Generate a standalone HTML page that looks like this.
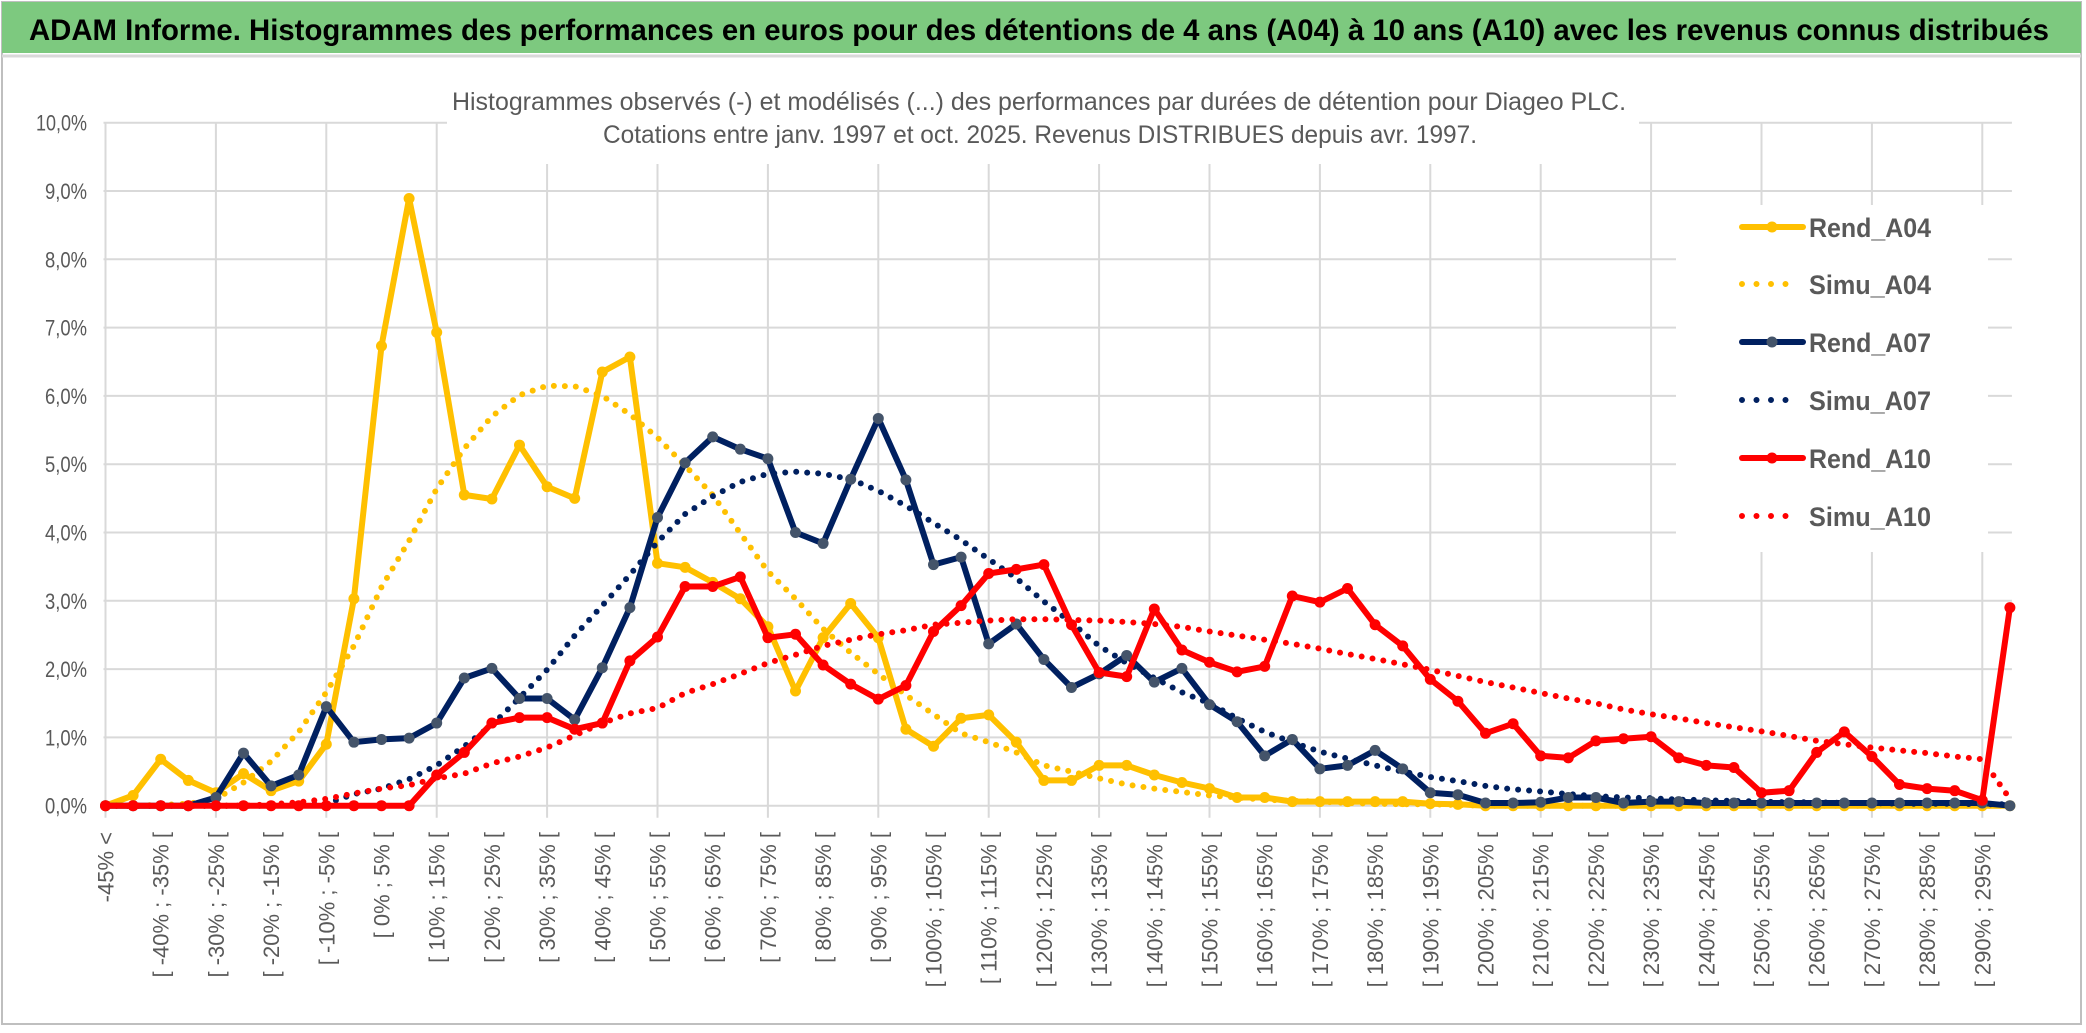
<!DOCTYPE html>
<html><head><meta charset="utf-8"><title>ADAM Informe - Diageo PLC</title>
<style>
html,body{margin:0;padding:0;background:#fff;}
svg{display:block;font-family:"Liberation Sans",sans-serif;}
</style></head>
<body>
<svg id="chart" width="2086" height="1033" viewBox="0 0 2086 1033" xmlns="http://www.w3.org/2000/svg">
  <rect x="0" y="0" width="2086" height="1033" fill="#fff"/>
  <rect x="2" y="2" width="2079" height="1022" fill="none" stroke="#bfbfbf" stroke-width="2"/>
  <rect x="2" y="2" width="2079" height="51" fill="#7dc97f"/>
  <line x1="2" y1="56" x2="2081" y2="56" stroke="#d9d9d9" stroke-width="3"/>
  <text x="29" y="40" font-size="30" font-weight="bold" fill="#000" textLength="2020" lengthAdjust="spacingAndGlyphs">ADAM Informe. Histogrammes des performances en euros pour des détentions de 4 ans (A04) à 10 ans (A10) avec les revenus connus distribués</text>
  <g id="grid"></g>
  <rect x="447" y="78" width="1192" height="86" fill="#fff"/>
  <rect x="1676" y="205" width="312" height="347" fill="#fff"/>
  <text x="1039" y="110" font-size="25" fill="#595959" text-anchor="middle" textLength="1174" lengthAdjust="spacingAndGlyphs">Histogrammes observés (-) et modélisés (...) des performances par durées de détention pour Diageo PLC.</text>
  <text x="1040" y="143" font-size="25" fill="#595959" text-anchor="middle" textLength="874" lengthAdjust="spacingAndGlyphs">Cotations entre janv. 1997 et oct. 2025. Revenus DISTRIBUES depuis avr. 1997.</text>
  <g id="yaxis"></g>
  <g id="xaxis"></g>
  <g id="series"></g>
  <g id="legend"></g>
</svg>
<script>
const rendA04 = [0,0.15,0.68,0.37,0.19,0.47,0.22,0.36,0.9,3.03,6.73,8.89,6.93,4.55,4.49,5.28,4.67,4.5,6.35,6.57,3.55,
 3.49,3.27,3.03,2.62,1.68,2.46,2.96,2.46,1.12,0.87,1.28,1.33,0.93,0.37,0.37,0.59,0.59,0.45,0.34,
 0.25,0.12,0.12,0.06,0.06,0.06,0.06,0.06,0.03,0.02,
 0,0,0,0,0,0,0,0,0,0,0,0,0,0,0,0,0,0,0,0];
const simuA04 = [0,0,0.01,0.03,0.1,0.34,0.65,1.08,1.66,2.34,3.2,3.88,4.64,5.23,5.7,6.01,6.15,6.14,6.0,5.73,5.39,
 4.98,4.55,3.99,3.43,3.03,2.59,2.24,1.93,1.62,1.34,1.06,0.93,0.78,0.59,0.5,0.4,0.31,0.25,0.2,
 0.15,0.12,0.09,0.07,0.06,0.04,0.03,0.02,0.02,0.01,
 0,0,0,0,0,0,0,0,0,0,0,0,0,0,0,0,0,0,0,0];
const rendA07 = [0,0,0,0,0.12,0.77,0.29,0.45,1.45,0.93,0.97,0.99,1.21,1.87,2.01,1.57,1.57,1.26,2.02,2.9,4.22,
 5.02,5.40,5.22,5.08,4.0,3.84,4.78,5.67,4.77,3.53,3.64,2.37,2.66,2.14,1.73,1.93,2.2,1.81,2.01,
 1.48,1.23,0.73,0.97,0.54,0.59,0.81,0.54,0.19,0.16,0.04,0.04,0.05,0.12,0.12,0.04,0.06,0.06,0.04,0.04,
 0.04,0.04,0.04,0.04,0.04,0.04,0.04,0.04,0.04,0];
const simuA07 = [0,0,0,0,0,0,0,0.01,0.03,0.17,0.25,0.39,0.59,0.87,1.18,1.58,1.99,2.49,2.93,3.38,3.86,
 4.27,4.53,4.74,4.86,4.89,4.86,4.78,4.61,4.39,4.14,3.89,3.61,3.33,2.99,2.68,2.34,2.09,1.87,1.66,
 1.50,1.28,1.08,0.93,0.79,0.69,0.59,0.50,0.42,0.36,0.29,0.24,0.21,0.17,0.14,0.12,0.11,0.09,0.08,0.07,
 0.06,0.05,0.05,0.04,0.04,0.03,0.03,0.03,0.02,0.02];
const rendA10 = [0,0,0,0,0,0,0,0,0,0,0,0,
 0.45,0.78,1.21,1.29,1.29,1.12,1.21,2.12,2.47,
 3.21,3.21,3.35,2.46,2.51,2.06,1.78,1.56,1.76,2.55,2.93,3.40,3.46,3.53,2.65,1.95,1.89,2.88,2.28,
 2.10,1.96,2.04,3.07,2.98,3.18,2.65,2.34,1.85,1.53,1.06,1.20,0.73,0.70,0.95,0.98,1.01,0.70,0.59,0.56,
 0.19,0.22,0.78,1.08,0.72,0.31,0.25,0.22,0.08,2.90];
const simuA10 = [0,0,0,0,0,0,0.02,0.05,0.1,0.18,0.25,0.3,0.4,0.47,0.62,0.72,0.85,1.03,1.21,1.35,1.43,
 1.65,1.78,1.93,2.09,2.21,2.34,2.43,2.51,2.57,2.65,2.68,2.71,2.73,2.73,2.72,2.71,2.69,2.66,2.62,
 2.55,2.49,2.43,2.37,2.30,2.22,2.15,2.07,1.99,1.90,1.81,1.73,1.65,1.57,1.50,1.41,1.34,1.28,1.21,1.15,
 1.09,1.02,0.95,0.90,0.85,0.81,0.77,0.72,0.68,0.10];
const yTicks = [0,1,2,3,4,5,6,7,8,9,10];
const seriesNames = ["Rend_A04","Simu_A04","Rend_A07","Simu_A07","Rend_A10","Simu_A10"];

const NS = "http://www.w3.org/2000/svg";
const N = rendA04.length;
const X0 = 105.5, DX = 27.6, Y0 = 805.7, DY = 68.3;
const xS = i => X0 + i * DX;
const yS = v => Y0 - v * DY;
function mk(tag, attrs, parent){
  const e = document.createElementNS(NS, tag);
  for (const k in attrs) e.setAttribute(k, attrs[k]);
  parent.appendChild(e); return e;
}
function catLabel(i){
  if (i === 0) return "-45% <";
  const lo = -50 + 5 * i;
  return "[ " + lo + "% ; " + (lo + 5) + "% [";
}
const grid = document.getElementById("grid");
const xRight = xS(N - 1) + 2;
yTicks.forEach(t => {
  const l = mk("line", {x1: X0 - 2, x2: xRight, y1: yS(t), y2: yS(t), stroke: "#d9d9d9", "stroke-width": 2}, grid);
  
  
});
for (let i = 0; i < N; i += 4) {
  const l = mk("line", {x1: xS(i), x2: xS(i), y1: yS(10), y2: Y0 + 12, stroke: "#d9d9d9", "stroke-width": 2}, grid);
  
  
}
const yaxis = document.getElementById("yaxis");
yTicks.forEach(t => {
  const tx = mk("text", {x: 87, y: yS(t) + 8, "font-size": 22, fill: "#595959", "text-anchor": "end", textLength: t === 10 ? 51 : 42, lengthAdjust: "spacingAndGlyphs"}, yaxis);
  tx.textContent = t.toFixed(1).replace(".", ",") + "%";
  
  
});
const xaxis = document.getElementById("xaxis");
for (let i = 0; i < N; i += 2) {
  const x = xS(i) + 8, y = 832;
  const tx = mk("text", {x: x, y: y, "font-size": 22, fill: "#595959", "text-anchor": "end", transform: "rotate(-90 " + x + " " + y + ")"}, xaxis);
  tx.textContent = catLabel(i);
  
  
}
const series = document.getElementById("series");
function pts(arr){ return arr.map((v, i) => xS(i).toFixed(1) + "," + yS(v).toFixed(1)).join(" "); }
function dotted(arr, color, name){
  const p = mk("polyline", {points: pts(arr), fill: "none", stroke: color, "stroke-width": 6, "stroke-linecap": "round", "stroke-dasharray": "0 11"}, series);
  
  
}
function solid(arr, color, mColor, name){
  const p = mk("polyline", {points: pts(arr), fill: "none", stroke: color, "stroke-width": 6, "stroke-linejoin": "round"}, series);
  
  
  arr.forEach((v, i) => {
    const c = mk("circle", {cx: xS(i), cy: yS(v), r: 5.5, fill: mColor}, series);
    
    
  });
}
dotted(simuA04, "#ffc000", "simu-a04-line");
solid(rendA04, "#ffc000", "#ffc000", "rend-a04-line");
dotted(simuA07, "#002060", "simu-a07-line");
solid(rendA07, "#002060", "#44546a", "rend-a07-line");
dotted(simuA10, "#ff0000", "simu-a10-line");
solid(rendA10, "#ff0000", "#ff0000", "rend-a10-line");

const legend = document.getElementById("legend");
const legY = [236, 293, 351, 409, 467, 525];
const legStyle = [["#ffc000","#ffc000",false],["#ffc000",null,true],["#002060","#44546a",false],["#002060",null,true],["#ff0000","#ff0000",false],["#ff0000",null,true]];
seriesNames.forEach((nm, k) => {
  const y = legY[k], st = legStyle[k];
  const g = mk("g", {}, legend);
  
  
  if (st[2]) {
    mk("line", {x1: 1742, x2: 1800, y1: y - 9, y2: y - 9, stroke: st[0], "stroke-width": 6, "stroke-linecap": "round", "stroke-dasharray": "0 14.5"}, g);
  } else {
    mk("line", {x1: 1742, x2: 1803, y1: y - 9, y2: y - 9, stroke: st[0], "stroke-width": 6, "stroke-linecap": "round"}, g);
    mk("circle", {cx: 1772, cy: y - 9, r: 5.5, fill: st[1]}, g);
  }
  const t = mk("text", {x: 1809, y: y + 1, "font-size": 27, "font-weight": "bold", fill: "#595959", textLength: 122, lengthAdjust: "spacingAndGlyphs"}, g);
  t.textContent = nm;
});
</script>
</body></html>
